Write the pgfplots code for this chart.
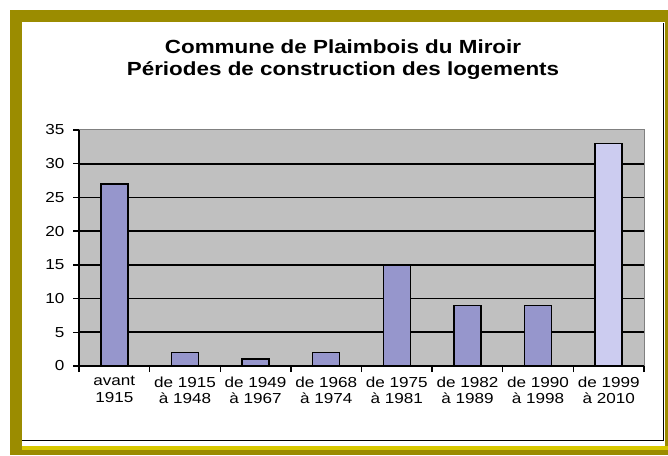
\documentclass[border=0pt]{standalone}
\usepackage{fontspec}
\setmainfont{Liberation Sans}[FakeStretch=1.18]
\usepackage{pgfplots}
\pgfplotsset{compat=1.18}
\definecolor{olive1}{HTML}{9B8C00}
\definecolor{yel}{HTML}{D8C800}
\definecolor{barc}{HTML}{9696CC}
\definecolor{barl}{HTML}{CCCCF0}
\definecolor{plotbg}{HTML}{C0C0C0}
\begin{document}
\begin{tikzpicture}[x=1pt,y=1pt]
\fill[white] (0,0) rectangle (668,455);
\fill[olive1] (10,0) rectangle (668,445);
\fill[white] (22,9.5) rectangle (665,433);
\fill[yel] (22,5) rectangle (668,9.5);
\draw[black, line width=1.5pt] (22,14.5) -- (663.5,14.5) -- (663.5,432);
\node[align=center, font=\fontsize{19}{22}\selectfont\bfseries] at (343,395)
  {Commune de Plaimbois du Miroir\\Périodes de construction des logements};
\begin{axis}[
  at={(79pt,89pt)}, anchor=south west, scale only axis,
  width=565pt, height=236pt,
  xmin=-0.5, xmax=7.5, ymin=0, ymax=35,
  ytick={0,5,...,35},
  extra y ticks={5,10,...,30},
  extra y tick labels={},
  extra y tick style={grid=major, major tick length=0pt},
  major grid style={black, line width=1.8pt},
  xtick={0,...,7},
  xticklabels={avant\\1915, de 1915\\à 1948, de 1949\\à 1967, de 1968\\à 1974, de 1975\\à 1981, de 1982\\à 1989, de 1990\\à 1998, de 1999\\à 2010},
  minor xtick={-0.5,0.5,...,7.5},
  major x tick style={draw=none},
  minor tick length=6pt,
  major tick length=6pt,
  tick align=outside,
  tick style={black, line width=1.3pt},
  axis x line*=bottom,
  axis y line*=left,
  axis line style={black, line width=1.3pt, -},
  axis background/.style={fill=plotbg},
  /pgf/number format/assume math mode=true,
  ticklabel style={font=\fontsize{14.5}{16.5}\selectfont},
  xticklabel style={align=center, yshift=-1pt},
  yticklabel style={xshift=-5pt},
  clip=false,
]
\draw[gray, line width=1pt] (rel axis cs:0,1) -- (rel axis cs:1,1) -- (rel axis cs:1,0);
\addplot[ybar, bar width=27pt, bar shift=0pt, fill=barc, draw=black, line width=1.6pt]
  coordinates {(0,27) (1,2) (2,1) (3,2) (4,15) (5,9) (6,9)};
\addplot[ybar, bar width=27pt, bar shift=0pt, fill=barl, draw=black, line width=1.6pt]
  coordinates {(7,33)};
\end{axis}
\end{tikzpicture}
\end{document}
